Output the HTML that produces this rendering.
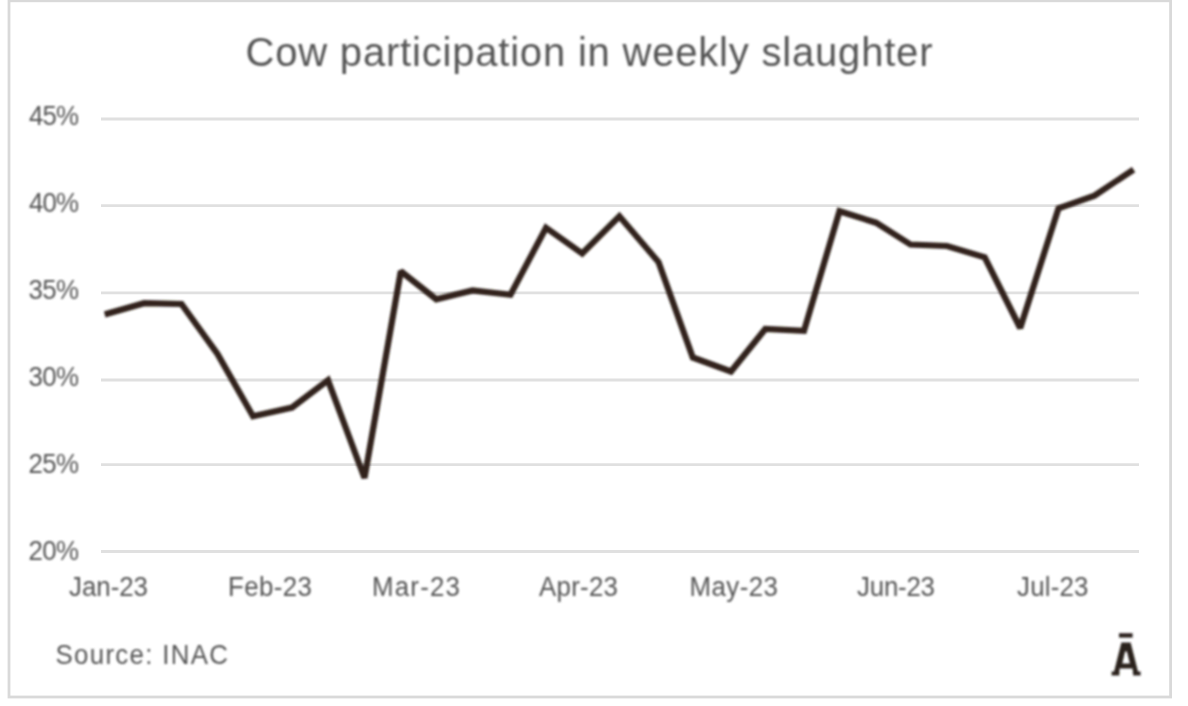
<!DOCTYPE html>
<html><head><meta charset="utf-8"><style>
html,body{margin:0;padding:0;background:#fff;width:1188px;height:706px;overflow:hidden}
svg{display:block}
text{font-family:"Liberation Sans",sans-serif;fill:#555555}
</style></head><body>
<svg width="1188" height="706" viewBox="0 0 1188 706">
<defs><filter id="b" x="-1%" y="-1%" width="102%" height="102%"><feGaussianBlur stdDeviation="0.8"/></filter></defs>
<rect x="0" y="0" width="1188" height="706" fill="#fff"/>
<rect x="9" y="0.8" width="1161.6" height="696.2" fill="none" stroke="#d9d9d9" stroke-width="2.8"/>
<g stroke="#e0e0e0" stroke-width="2.8"><line x1="101" x2="1139" y1="119" y2="119"/><line x1="101" x2="1139" y1="205.7" y2="205.7"/><line x1="101" x2="1139" y1="292.8" y2="292.8"/><line x1="101" x2="1139" y1="380" y2="380"/><line x1="101" x2="1139" y1="464.6" y2="464.6"/><line x1="101" x2="1139" y1="551.5" y2="551.5"/></g>
<g filter="url(#b)">
<text transform="translate(245.5 66) scale(1.0 1)" x="0" y="0" font-size="40" textLength="687.00" lengthAdjust="spacing">Cow participation in weekly slaughter</text>
<text transform="translate(29 124.8) scale(0.94 1)" x="0" y="0" font-size="27.5" textLength="53.19" lengthAdjust="spacing">45%</text>
<text transform="translate(29 211.8) scale(0.94 1)" x="0" y="0" font-size="27.5" textLength="53.19" lengthAdjust="spacing">40%</text>
<text transform="translate(28.5 298.7) scale(0.94 1)" x="0" y="0" font-size="27.5" textLength="53.72" lengthAdjust="spacing">35%</text>
<text transform="translate(28.5 385.7) scale(0.94 1)" x="0" y="0" font-size="27.5" textLength="53.72" lengthAdjust="spacing">30%</text>
<text transform="translate(28.5 473.20000000000005) scale(0.94 1)" x="0" y="0" font-size="27.5" textLength="53.72" lengthAdjust="spacing">25%</text>
<text transform="translate(28.5 559.6999999999999) scale(0.94 1)" x="0" y="0" font-size="27.5" textLength="53.72" lengthAdjust="spacing">20%</text>
<text transform="translate(69 595.9) scale(0.94 1)" x="0" y="0" font-size="27.5" textLength="84.04" lengthAdjust="spacing">Jan-23</text>
<text transform="translate(228 595.9) scale(0.94 1)" x="0" y="0" font-size="27.5" textLength="89.36" lengthAdjust="spacing">Feb-23</text>
<text transform="translate(372 595.9) scale(0.94 1)" x="0" y="0" font-size="27.5" textLength="93.62" lengthAdjust="spacing">Mar-23</text>
<text transform="translate(539 595.9) scale(0.94 1)" x="0" y="0" font-size="27.5" textLength="84.04" lengthAdjust="spacing">Apr-23</text>
<text transform="translate(689.5 595.9) scale(0.94 1)" x="0" y="0" font-size="27.5" textLength="94.15" lengthAdjust="spacing">May-23</text>
<text transform="translate(857 595.9) scale(0.94 1)" x="0" y="0" font-size="27.5" textLength="82.98" lengthAdjust="spacing">Jun-23</text>
<text transform="translate(1017 595.9) scale(0.94 1)" x="0" y="0" font-size="27.5" textLength="76.06" lengthAdjust="spacing">Jul-23</text>
<text transform="translate(55.5 663.8) scale(0.94 1)" x="0" y="0" font-size="27.5" textLength="183.51" lengthAdjust="spacing">Source: INAC</text>
<polyline points="107.7,313.6 144.1,303.2 181.5,304 217.5,354 253,416.3 292,407.5 328,380.3 364.5,478.0 400.8,271.3 436.3,299.3 472.5,290.5 510.5,294.8 546,227.8 582.2,253.5 619.4,216.2 658.5,262 692.8,357.5 731,371.5 765.3,329 804,330.8 839.5,211.2 876,222.7 910.5,244.5 947,246 984.7,257.3 1020.2,328 1058.5,208.4 1094.5,195.6 1131,171.3" fill="none" stroke="#30231c" stroke-width="6.2" stroke-linejoin="miter" stroke-miterlimit="1.8" stroke-linecap="square"/>
<g fill="#2a231e"><rect x="1119" y="633.2" width="13.6" height="4.4"/><path fill-rule="evenodd" d="M1121.4 642.4 L1130.6 642.4 L1138 671.5 L1140.6 671.5 L1140.6 675.5 L1133.2 675.5 L1132.6 668.6 L1119.6 668.6 L1119.3 675.5 L1111.6 675.5 L1111.6 671.5 L1114.1 671.5 Z M1125.1 651.6 L1126.9 651.6 L1129.9 663.6 L1122.3 663.6 Z"/></g>
</g>
</svg>
</body></html>
